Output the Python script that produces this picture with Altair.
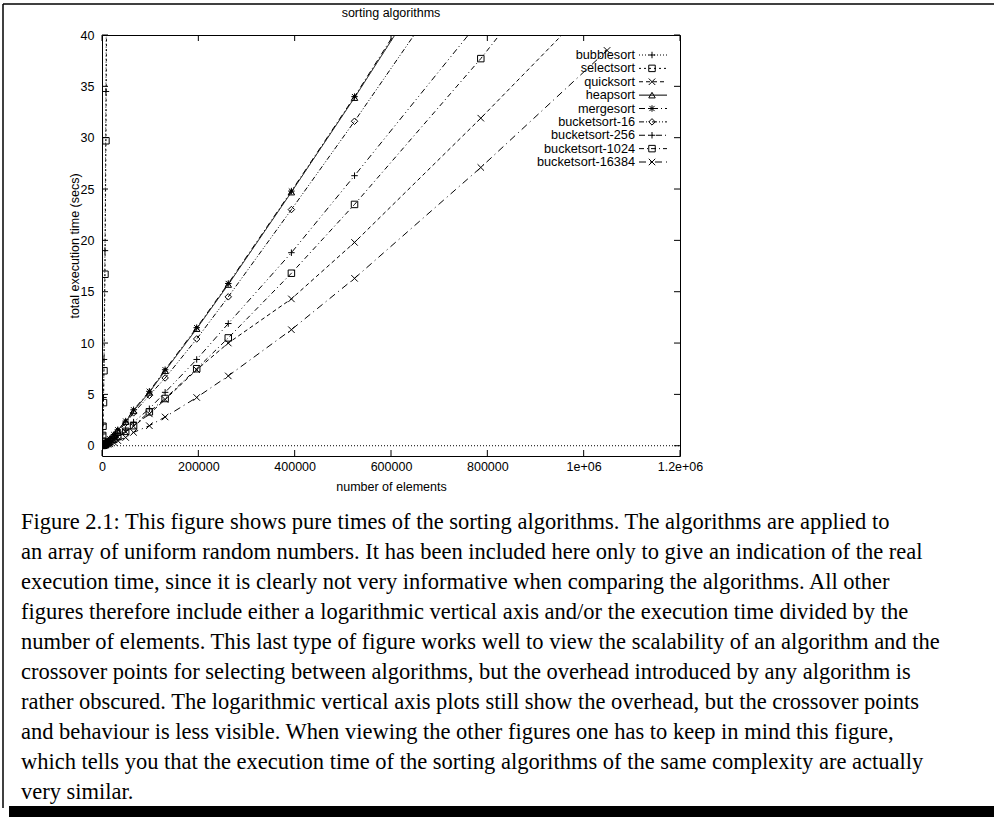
import altair as alt
import pandas as pd

# ---------------- data ----------------
series_names = ["bubblesort", "selectsort", "quicksort", "heapsort", "mergesort",
                "bucketsort-16", "bucketsort-256", "bucketsort-1024", "bucketsort-16384"]

n_quadratic = [1024, 1536, 2048, 3072, 4096, 6144, 8192, 12288]
n_all = [1024, 1536, 2048, 3072, 4096, 6144, 8192, 12288, 16384, 24576, 32768, 49152,
         65536, 98304, 131072, 196608, 262144, 393216, 524288, 786432, 1048576]

bubblesort = [0.5, 1.15, 2.1, 4.7, 8.4, 19.0, 34.5, 76.0]
selectsort = [0.45, 1.0, 1.9, 4.2, 7.3, 16.7, 29.7, 67.0]
quicksort = [0.02, 0.03, 0.04, 0.06, 0.08, 0.12, 0.17, 0.26, 0.36, 0.58, 0.85, 1.35,
             1.9, 3.1, 4.5, 7.4, 10.0, 14.3, 19.8, 31.9, 44.5]
heapsort = [0.03, 0.05, 0.07, 0.10, 0.14, 0.22, 0.30, 0.46, 0.65, 1.05, 1.5, 2.35,
            3.4, 5.2, 7.3, 11.4, 15.7, 24.7, 33.9, 53.0, 73.0]
mergesort = [0.03, 0.05, 0.07, 0.11, 0.15, 0.23, 0.31, 0.48, 0.67, 1.08, 1.55, 2.4,
             3.5, 5.3, 7.4, 11.5, 15.8, 24.8, 34.0, 53.4, 74.0]
bucketsort_16 = [0.03, 0.04, 0.06, 0.09, 0.13, 0.20, 0.28, 0.43, 0.60, 0.97, 1.4, 2.2,
                 3.2, 4.9, 6.6, 10.4, 14.5, 23.0, 31.6, 49.4, 68.0]
bucketsort_256 = [0.02, 0.03, 0.05, 0.07, 0.10, 0.15, 0.20, 0.31, 0.43, 0.70, 1.0, 1.55,
                  2.3, 3.6, 5.2, 8.4, 11.9, 18.8, 26.3, 41.5, 57.0]
bucketsort_1024 = [0.03, 0.04, 0.05, 0.07, 0.09, 0.14, 0.19, 0.28, 0.40, 0.62, 0.9, 1.4,
                   1.95, 3.3, 4.6, 7.5, 10.5, 16.8, 23.5, 37.7, 53.3]
bucketsort_16384 = [0.01, 0.015, 0.02, 0.03, 0.04, 0.06, 0.09, 0.14, 0.2, 0.32, 0.5, 0.8,
                    1.3, 1.95, 2.8, 4.7, 6.8, 11.3, 16.3, 27.1, 38.5]

series_values = {
    "bubblesort": (n_quadratic, bubblesort),
    "selectsort": (n_quadratic, selectsort),
    "quicksort": (n_all, quicksort),
    "heapsort": (n_all, heapsort),
    "mergesort": (n_all, mergesort),
    "bucketsort-16": (n_all, bucketsort_16),
    "bucketsort-256": (n_all, bucketsort_256),
    "bucketsort-1024": (n_all, bucketsort_1024),
    "bucketsort-16384": (n_all, bucketsort_16384),
}

x_ticks = [0, 200000, 400000, 600000, 800000, 1000000, 1200000]
y_ticks = [0, 5, 10, 15, 20, 25, 30, 35, 40]

chart_title = "sorting algorithms"
caption_lines = [
    "Figure 2.1:  This figure shows pure times of the sorting algorithms.  The algorithms are applied to",
    "an array of uniform random numbers. It has been included here only to give an indication of the real",
    "execution time, since it is clearly not very informative when comparing the algorithms.  All other",
    "figures therefore include either a logarithmic vertical axis and/or the execution time divided by the",
    "number of elements. This last type of figure works well to view the scalability of an algorithm and the",
    "crossover points for selecting between algorithms, but the overhead introduced by any algorithm is",
    "rather obscured. The logarithmic vertical axis plots still show the overhead, but the crossover points",
    "and behaviour is less visible.  When viewing the other figures one has to keep in mind this figure,",
    "which tells you that the execution time of the sorting algorithms of the same complexity are actually",
    "very similar.",
]

# ---------------- styles ----------------
dash_range = [[1, 2], [2, 3], [4, 3], [1, 0], [6, 3, 1, 3], [5, 2, 1, 2, 1, 2],
              [6, 3, 1, 3, 1, 3], [5, 3, 1, 3], [7, 4, 1, 4]]
PLUS = "M-1,0L1,0M0,-1L0,1"
XMARK = "M-1,-1L1,1M-1,1L1,-1"
STAR = "M-1,0L1,0M0,-1L0,1M-0.8,-0.8L0.8,0.8M-0.8,0.8L0.8,-0.8"
shape_range = [PLUS, "square", XMARK, "triangle-up", STAR, "diamond", PLUS, "square", XMARK]

W, H = 578, 421
PAD_L, PAD_T = 102, 35
FONT = "Liberation Sans"
FS = 12.5

rows = []
for name in series_names:
    xs, ys = series_values[name]
    for xv, yv in zip(xs, ys):
        rows.append({"n": xv, "t": yv, "series": name})
df = pd.DataFrame(rows)

xscale = alt.Scale(domain=[0, 1200000], nice=False, zero=False)
yscale = alt.Scale(domain=[-1, 40], nice=False, zero=False)
x_label_expr = ("datum.value == 1000000 ? '1e+06' : datum.value == 1200000 ? '1.2e+06' : "
                "format(datum.value, 'd')")
axis_style = dict(ticks=False, domain=False, grid=False,
                  labelFont=FONT, labelFontSize=FS, labelColor="black",
                  titleFont=FONT, titleFontSize=FS, titleFontWeight="normal", titleColor="black")
xaxis = alt.Axis(values=x_ticks, labelExpr=x_label_expr, labelPadding=4, titlePadding=8,
                 labelFlush=False, **axis_style)
yaxis = alt.Axis(values=y_ticks, format="d", labelPadding=8, titlePadding=-1, **axis_style)


def xenc():
    return alt.X("n:Q", scale=xscale, axis=xaxis, title="number of elements")


def yenc():
    return alt.Y("t:Q", scale=yscale, axis=yaxis, title="total execution time (secs)")


dash_enc = alt.StrokeDash("series:N", scale=alt.Scale(domain=series_names, range=dash_range), legend=None)
shape_enc = alt.Shape("series:N", scale=alt.Scale(domain=series_names, range=shape_range), legend=None)

lines = alt.Chart(df).mark_line(clip=True, color="black", strokeWidth=1).encode(
    x=xenc(), y=yenc(), strokeDash=dash_enc, order="n:Q")
points = alt.Chart(df).mark_point(clip=True, filled=False, color="black", strokeWidth=1,
                                  size=42, opacity=1).encode(x=xenc(), y=yenc(), shape=shape_enc)

zero_df = pd.DataFrame({"t": [0]})
zero_line = alt.Chart(zero_df).mark_rule(color="black", strokeWidth=1, strokeDash=[1, 2]).encode(
    y=yenc(), x=alt.value(0), x2=alt.value(W))

yt_df = pd.DataFrame({"t": y_ticks})
xt_df = pd.DataFrame({"n": x_ticks})
ytick_l = alt.Chart(yt_df).mark_rule(color="black").encode(y=yenc(), x=alt.value(0), x2=alt.value(6))
ytick_r = alt.Chart(yt_df).mark_rule(color="black").encode(y=yenc(), x=alt.value(W - 6), x2=alt.value(W))
xtick_b = alt.Chart(xt_df).mark_rule(color="black").encode(x=xenc(), y=alt.value(H - 6), y2=alt.value(H))
xtick_t = alt.Chart(xt_df).mark_rule(color="black").encode(x=xenc(), y=alt.value(0), y2=alt.value(6))

plot = alt.layer(zero_line, ytick_l, ytick_r, xtick_b, xtick_t, lines, points)

# legend (inside, top right)
leg_df = pd.DataFrame({"series": series_names, "row": list(range(len(series_names)))})
leg_y = alt.Y("row:Q", scale=alt.Scale(domain=[0, 8], range=[20, 127]), axis=None)
leg_text = alt.Chart(leg_df).mark_text(align="right", baseline="middle", font=FONT,
                                       fontSize=12.7, color="black").encode(
    text="series:N", y=leg_y, x=alt.value(533))
leg_line = alt.Chart(leg_df).mark_rule(color="black", strokeWidth=1).encode(
    y=leg_y, x=alt.value(537), x2=alt.value(565), strokeDash=dash_enc)
leg_pt = alt.Chart(leg_df).mark_point(filled=False, color="black", strokeWidth=1, size=42,
                                      opacity=1).encode(y=leg_y, x=alt.value(550), shape=shape_enc)
legend = alt.layer(leg_text, leg_line, leg_pt)

# title as text
title_df = pd.DataFrame({"text": [chart_title]})
title = alt.Chart(title_df).mark_text(align="center", baseline="middle", font=FONT, fontSize=FS,
                                      color="black").encode(
    text="text:N", x=alt.value(W / 2), y=alt.value(13 - PAD_T))

# caption
cap_df = pd.DataFrame({"line": list(range(len(caption_lines))), "text": caption_lines})
cap_y = alt.Y("line:Q", scale=alt.Scale(domain=[0, 9], range=[494, 764]), axis=None)
caption = alt.Chart(cap_df).mark_text(align="left", baseline="alphabetic", font="Liberation Serif",
                                      fontSize=22.5, color="black").encode(
    text="text:N", y=cap_y, x=alt.value(21 - PAD_L))

# frame (shadow box)
one = pd.DataFrame({"a": [0]})
top_line = alt.Chart(one).mark_rule(color="black", strokeWidth=1.5).encode(
    x=alt.value(3 - PAD_L), x2=alt.value(994 - PAD_L), y=alt.value(4 - PAD_T))
left_line = alt.Chart(one).mark_rule(color="black", strokeWidth=1.5).encode(
    x=alt.value(3 - PAD_L), y=alt.value(4 - PAD_T), y2=alt.value(808 - PAD_T))
shadow = alt.Chart(one).mark_rect(color="black").encode(
    x=alt.value(9 - PAD_L), x2=alt.value(994 - PAD_L), y=alt.value(806 - PAD_T), y2=alt.value(817 - PAD_T))
frame = alt.layer(top_line, left_line, shadow)

chart = alt.layer(plot, legend, title, caption, frame).resolve_scale(y="independent").properties(
    width=W, height=H,
    background="white",
    autosize=alt.AutoSizeParams(type="none"),
    padding={"left": PAD_L, "top": PAD_T, "right": 994 - PAD_L - W, "bottom": 819 - PAD_T - H},
).configure_view(stroke="black", strokeWidth=1)

chart.save("out.html", embed_options={"renderer": "svg", "actions": False})
